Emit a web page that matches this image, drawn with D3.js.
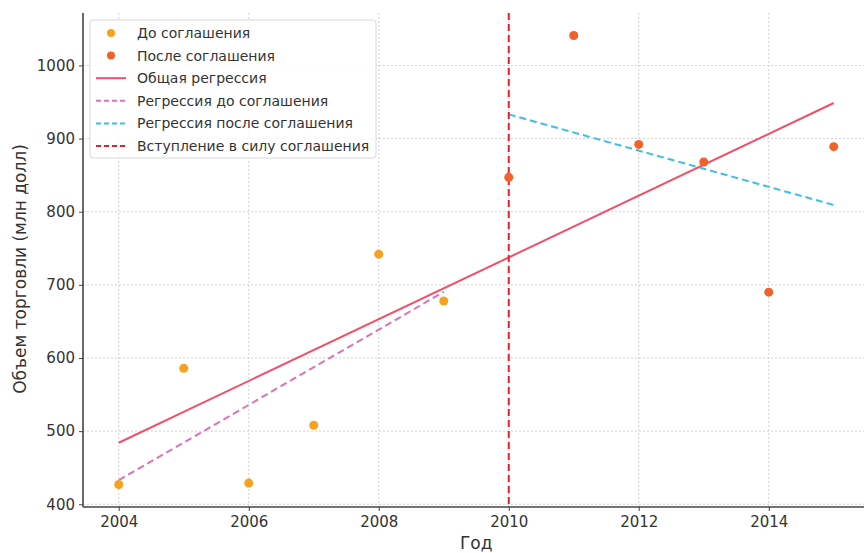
<!DOCTYPE html>
<html><head><meta charset="utf-8">
<script src="https://cdn.jsdelivr.net/npm/d3@7/dist/d3.min.js"></script>
<style>body{margin:0;background:#fff}text{font-family:"DejaVu Sans",sans-serif}</style>
</head><body><svg id="c" width="864" height="553"></svg>
<script>
const yearsBefore = [2004, 2005, 2006, 2007, 2008, 2009];
const valuesBefore = [427, 586, 429, 508, 742, 678];
const yearsAfter = [2010, 2011, 2012, 2013, 2014, 2015];
const valuesAfter = [847, 1041, 892, 868, 690, 889];
const agreementYear = 2010;
const xTicks = [2004, 2006, 2008, 2010, 2012, 2014];
const yTicks = [400, 500, 600, 700, 800, 900, 1000];
const legendLabels = ["До соглашения", "После соглашения", "Общая регрессия",
  "Регрессия до соглашения", "Регрессия после соглашения", "Вступление в силу соглашения"];

function fit(xs, ys) {
  const n = xs.length, mx = d3.mean(xs), my = d3.mean(ys);
  let sxy = 0, sxx = 0;
  for (let i = 0; i < n; i++) { sxy += (xs[i]-mx)*(ys[i]-my); sxx += (xs[i]-mx)**2; }
  const b = sxy / sxx, a = my - b*mx;
  return x => a + b*x;
}
const allX = yearsBefore.concat(yearsAfter), allY = valuesBefore.concat(valuesAfter);
const fAll = fit(allX, allY), fB = fit(yearsBefore, valuesBefore), fA = fit(yearsAfter, valuesAfter);

const svg = d3.select("#c");
const L = 83, T = 13, B = 507;
const xMin = 2004 - 0.55, xMax = 2015 + 0.55;
const yMin = 427 - 30.7, yMax = 1041 + 30.7;
const x = d3.scaleLinear().domain([xMin, xMax]).range([L, L + (xMax - xMin) * 65]);
const y = d3.scaleLinear().domain([yMin, yMax]).range([B, T]);
const R = x(xMax);

const col = {pre:"#f7a11e", post:"#f0622a", all:"#f2506a", preReg:"#e070b8", postReg:"#3fbde8", vline:"#e8202a"};

// grid
const g = svg.append("g");
g.selectAll(".gx").data(xTicks).enter().append("line")
  .attr("x1", d=>x(d)).attr("x2", d=>x(d)).attr("y1", T).attr("y2", B)
  .attr("stroke", "#d0d0d0").attr("stroke-width", 1).attr("stroke-dasharray", "2,2");
g.selectAll(".gy").data(yTicks).enter().append("line")
  .attr("x1", L).attr("x2", R).attr("y1", d=>y(d)).attr("y2", d=>y(d))
  .attr("stroke", "#d0d0d0").attr("stroke-width", 1).attr("stroke-dasharray", "2,2");

// axes
const xAxis = d3.axisBottom(x).tickValues(xTicks).tickFormat(d3.format("d")).tickSize(4).tickPadding(5);
const yAxis = d3.axisLeft(y).tickValues(yTicks).tickFormat(d3.format("d")).tickSize(4).tickPadding(4);
const ax = svg.append("g").attr("transform", `translate(0,${B})`).call(xAxis);
const ay = svg.append("g").attr("transform", `translate(${L},0)`).call(yAxis);
[ax, ay].forEach(a => {
  a.select(".domain").remove();
  a.selectAll(".tick line").attr("stroke", "#444");
  a.selectAll(".tick text").attr("fill", "#333").style("font-size", "15px");
});
svg.append("line").attr("x1", L).attr("x2", L).attr("y1", T).attr("y2", B).attr("stroke", "#444").attr("stroke-width", 1.6);
svg.append("line").attr("x1", L).attr("x2", R).attr("y1", B).attr("y2", B).attr("stroke", "#444").attr("stroke-width", 1.6);

svg.append("text").attr("x", (L + R) / 2).attr("y", 549).attr("text-anchor", "middle")
  .attr("fill", "#333").style("font-size", "17px").text("Год");
svg.append("text").attr("transform", `translate(26,269) rotate(-90)`).attr("text-anchor", "middle")
  .attr("fill", "#333").style("font-size", "17px").text("Объем торговли (млн долл)");

// regression lines
const line = (f, x0, x1, c, dash) => svg.append("line")
  .attr("x1", x(x0)).attr("x2", x(x1)).attr("y1", y(f(x0))).attr("y2", y(f(x1)))
  .attr("stroke", c).attr("stroke-width", 2).attr("stroke-dasharray", dash);
line(fAll, d3.min(allX), d3.max(allX), col.all, null);
line(fB, d3.min(yearsBefore), d3.max(yearsBefore), col.preReg, "7,4");
line(fA, d3.min(yearsAfter), d3.max(yearsAfter), col.postReg, "7,4");

// vertical line
svg.append("line").attr("x1", x(agreementYear)).attr("x2", x(agreementYear)).attr("y1", T).attr("y2", B)
  .attr("stroke", col.vline).attr("stroke-width", 2).attr("stroke-dasharray", "7,4");

// points
svg.selectAll(".pb").data(yearsBefore).enter().append("circle")
  .attr("cx", d=>x(d)).attr("cy", (d,i)=>y(valuesBefore[i])).attr("r", 4.5).attr("fill", col.pre);
svg.selectAll(".pa").data(yearsAfter).enter().append("circle")
  .attr("cx", d=>x(d)).attr("cy", (d,i)=>y(valuesAfter[i])).attr("r", 4.5).attr("fill", col.post);

// legend
const lg = svg.append("g");
lg.append("rect").attr("x", 90).attr("y", 20).attr("width", 286).attr("height", 138).attr("rx", 3)
  .attr("fill", "#fff").attr("fill-opacity", 0.85).attr("stroke", "#d8d8d8");
const ly = i => 33 + i * 22.6;
const sym = [
  {t:"dot", c:col.pre}, {t:"dot", c:col.post}, {t:"line", c:col.all, d:null},
  {t:"line", c:col.preReg, d:"5,3"}, {t:"line", c:col.postReg, d:"5,3"}, {t:"line", c:col.vline, d:"5,3"}];
legendLabels.forEach((lab, i) => {
  const s = sym[i];
  if (s.t === "dot") lg.append("circle").attr("cx", 111).attr("cy", ly(i)).attr("r", 4).attr("fill", s.c);
  else lg.append("line").attr("x1", 96).attr("x2", 126).attr("y1", ly(i)).attr("y2", ly(i))
    .attr("stroke", s.c).attr("stroke-width", 2).attr("stroke-dasharray", s.d);
  lg.append("text").attr("x", 137).attr("y", ly(i)).attr("dy", "0.35em")
    .attr("fill", "#333").style("font-size", "14px").text(lab);
});
</script></body></html>
